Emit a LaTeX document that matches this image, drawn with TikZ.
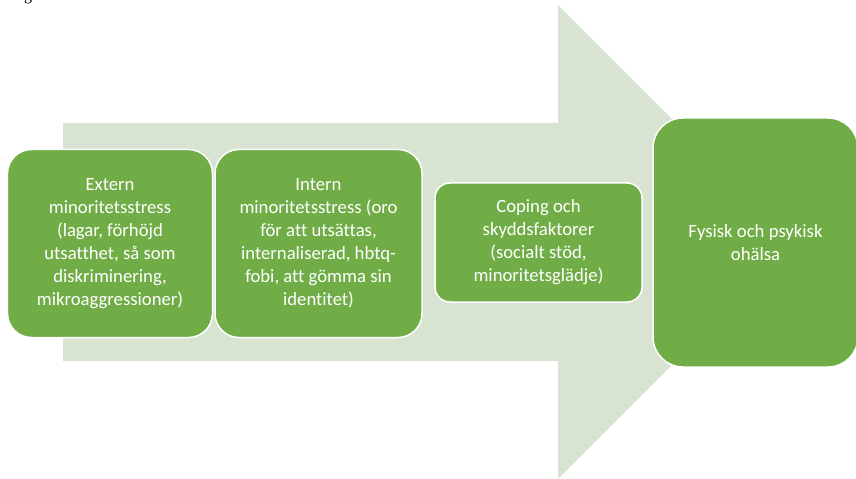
\documentclass[tikz,border=0pt]{standalone}
\usepackage{fontspec}
\setmainfont{Carlito}[Ligatures={NoCommon}]
\newfontfamily\serifrest{Liberation Serif}
\definecolor{boxgreen}{RGB}{112,173,71}
\definecolor{arrowgreen}{RGB}{216,228,209}
\tikzset{
  stepbox/.style={draw=white, line width=1.5bp, fill=boxgreen, text=white,
    align=center, inner sep=0pt, outer sep=0pt,
    font=\fontsize{18.7bp}{23bp}\selectfont},
}
\begin{document}
\begin{tikzpicture}[x=1bp,y=-1bp]
\useasboundingbox (0,0) rectangle (856,479);
\begin{scope}
\clip (0,0) rectangle (856,479);
% big background arrow
\fill[arrowgreen] (63,123) -- (558,123) -- (558,5) -- (795,242) -- (558,479) -- (558,361) -- (63,361) -- cycle;
% fragment of text at the top
\node[anchor=base, inner sep=0pt, font=\serifrest\fontsize{16bp}{18bp}\selectfont, text=black] (frag) at (28,1) {g};
% boxes
\node[stepbox, rounded corners=24bp, minimum width=205bp, minimum height=188bp] (box1) at (110,243.5)
  {Extern\\minoritetsstress\\(lagar, förhöjd\\utsatthet, så som\\diskriminering,\\mikroaggressioner)};
\node[stepbox, rounded corners=24bp, minimum width=207bp, minimum height=188bp] (box2) at (318.5,243.5)
  {Intern\\minoritetsstress (oro\\för att utsättas,\\internaliserad, hbtq-\\fobi, att gömma sin\\identitet)};
\node[stepbox, rounded corners=15bp, minimum width=207bp, minimum height=119bp] (box3) at (538.5,242.5)
  {Coping och\\skyddsfaktorer\\(socialt stöd,\\minoritetsglädje)};
\node[stepbox, rounded corners=30bp, minimum width=205bp, minimum height=249bp] (box4) at (755.5,242.5)
  {Fysisk och psykisk\\ohälsa};
\end{scope}
\end{tikzpicture}
\end{document}
